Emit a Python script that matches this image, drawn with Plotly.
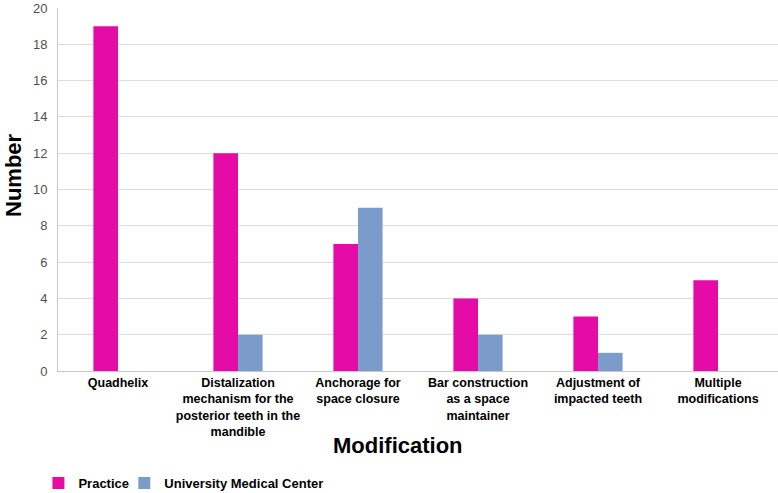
import plotly.graph_objects as go

categories = [
    "Quadhelix",
    "Distalization<br>mechanism for the<br>posterior teeth in the<br>mandible",
    "Anchorage for<br>space closure",
    "Bar construction<br>as a space<br>maintainer",
    "Adjustment of<br>impacted teeth",
    "Multiple<br>modifications",
]
practice = [19, 12, 7, 4, 3, 5]
university = [0, 2, 9, 2, 1, 0]

fig = go.Figure()
fig.add_trace(go.Bar(name="Practice", x=categories, y=practice, legend="legend",
                     marker=dict(color="#E40BA6", line=dict(width=0))))
fig.add_trace(go.Bar(name="University Medical Center", x=categories, y=university,
                     legend="legend2",
                     marker=dict(color="#7B9CCB", line=dict(width=0))))

top, bottom = 8, 371
ph = bottom - top
legend_font = dict(size=13, family="Liberation Sans, Arial, sans-serif", weight="bold")
legend_y = (bottom - 483) / ph

fig.update_layout(
    width=778, height=493,
    margin=dict(l=58, r=0, t=top, b=493 - bottom, autoexpand=False),
    paper_bgcolor="white", plot_bgcolor="white",
    barmode="group", bargap=0.59, bargroupgap=0,
    font=dict(family="Liberation Sans, Arial, sans-serif", color="#000"),
    showlegend=True,
    legend=dict(orientation="h", x=-0.0272, xanchor="left", y=legend_y, yanchor="middle",
                xref="paper", yref="paper", bgcolor="rgba(0,0,0,0)",
                font=legend_font, itemwidth=30),
    legend2=dict(orientation="h", x=0.0921, xanchor="left", y=legend_y, yanchor="middle",
                 xref="paper", yref="paper", bgcolor="rgba(0,0,0,0)",
                 font=legend_font, itemwidth=30),
    xaxis=dict(
        automargin=False,
        tickfont=dict(size=12.5, weight="bold"),
        showline=True, linecolor="#C8C8C8", linewidth=1,
        ticks="", tickangle=0,
    ),
    yaxis=dict(
        automargin=False,
        range=[0, 20], dtick=2,
        tickfont=dict(size=13, color="#505050"),
        showgrid=True, gridcolor="#DDDDDD", gridwidth=1,
        showline=True, linecolor="#C8C8C8", linewidth=1,
        zeroline=False, ticks="", ticklabelstandoff=7,
    ),
    annotations=[
        dict(text="<b>Modification</b>", font=dict(size=22),
             xref="paper", yref="paper", x=(397.5 - 58) / 720, y=(bottom - 445) / ph,
             xanchor="center", yanchor="middle", showarrow=False),
        dict(text="<b>Number</b>", font=dict(size=22), textangle=-90,
             xref="paper", yref="paper", x=(13 - 58) / 720, y=(bottom - 175) / ph,
             xanchor="center", yanchor="middle", showarrow=False),
    ],
)

fig.write_html("out.html", config={"displayModeBar": False},
               post_script="document.body.style.margin='0px';")
